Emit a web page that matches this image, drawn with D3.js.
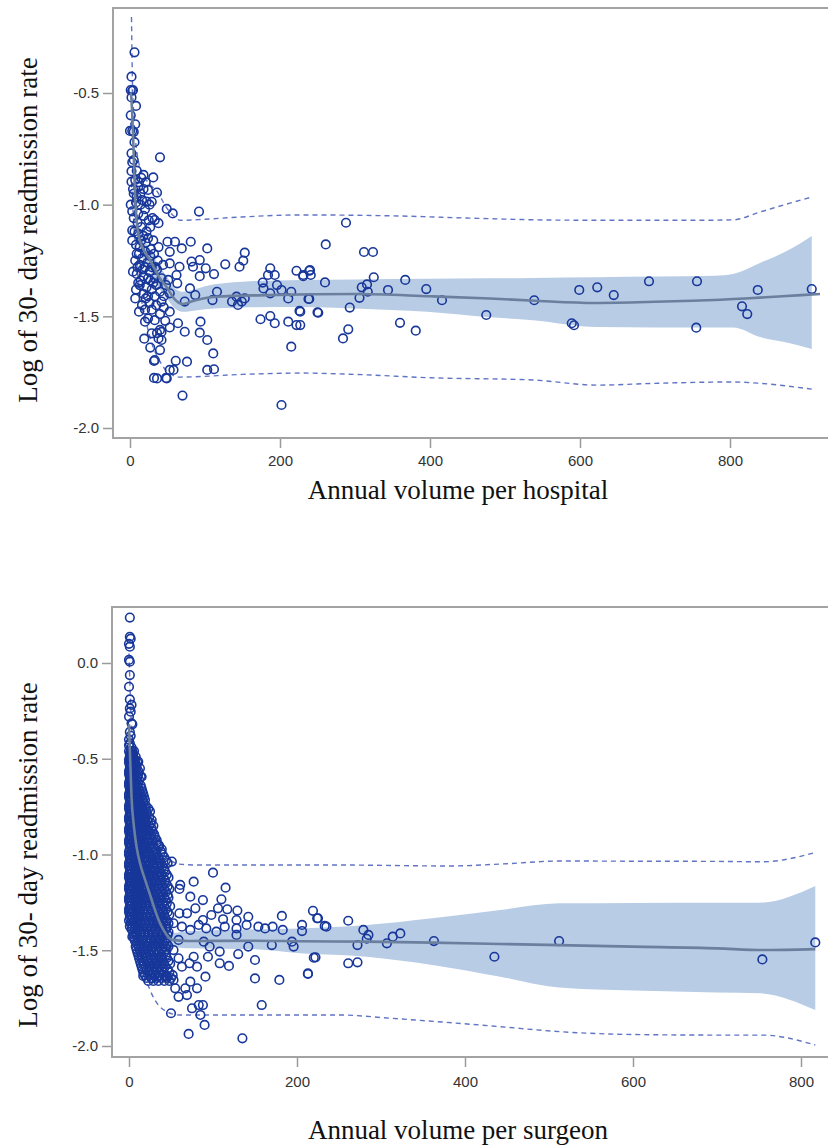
<!DOCTYPE html>
<html>
<head>
<meta charset="utf-8">
<script src="https://cdn.jsdelivr.net/npm/d3@7"></script>
<style>
  body { margin: 0; background: #fff; }
  .tick text { font-family: 'Liberation Sans Narrow', 'Liberation Sans', Arial, sans-serif; font-size: 15px; fill: #333; }
  .tick line { stroke: #9a9a9a; stroke-width: 1.5; }
  .title { font-family: 'Liberation Serif', 'Times New Roman', serif; font-size: 27px; fill: #111; }
</style>
</head>
<body>
<svg id="chart" width="828" height="1146"></svg>
<script>
// ---- hospital panel (top) ----
const hospitalPoints = [
  [288, -1.081], [261, -1.178], [312, -1.212], [324, -1.212], [239, -1.296], [231, -1.32], [241, -1.315],
  [260, -1.348], [325, -1.325], [309, -1.37], [316, -1.357], [317, -1.39], [306, -1.417], [367, -1.337],
  [344, -1.382], [395, -1.378], [416, -1.428], [238, -1.422], [293, -1.461], [227, -1.479], [250, -1.482],
  [227, -1.539], [291, -1.558], [284, -1.599], [360, -1.529], [381, -1.564], [475, -1.494], [539, -1.428],
  [599, -1.382], [589, -1.531], [592, -1.540], [623, -1.37], [645, -1.405], [692, -1.343], [756, -1.343],
  [755, -1.551], [816, -1.455], [823, -1.49], [837, -1.382], [909, -1.378], [202, -1.897], [215, -1.636],
  [92, -1.031], [40, -0.788], [31, -0.878], [36, -0.946], [49, -1.019], [57, -1.039], [50, -1.166],
  [60, -1.166], [81, -1.166], [53, -1.211], [69, -1.196], [103, -1.196], [153, -1.215], [151, -1.251],
  [146, -1.278], [127, -1.267], [93, -1.248], [82, -1.255], [101, -1.285], [112, -1.311], [93, -1.32],
  [84, -1.278], [66, -1.278], [53, -1.263], [62, -1.315], [51, -1.337], [63, -1.352], [80, -1.375],
  [87, -1.405], [73, -1.434], [53, -1.397], [42, -1.434], [53, -1.479], [64, -1.531], [73, -1.569],
  [94, -1.524], [93, -1.573], [103, -1.606], [111, -1.666], [103, -1.74], [112, -1.737], [76, -1.703],
  [61, -1.699], [58, -1.74], [49, -1.778], [36, -1.778], [32, -1.70], [40, -1.651], [70, -1.855],
  [12, -1.479], [20, -1.524], [29, -1.576], [38, -1.599], [40, -1.561], [33, -1.517], [116, -1.39],
  [110, -1.427], [136, -1.434], [142, -1.412], [144, -1.449], [149, -1.434], [153, -1.42], [178, -1.375],
  [184, -1.315], [193, -1.315], [187, -1.285], [196, -1.36], [187, -1.397], [202, -1.382], [215, -1.39],
  [211, -1.42], [222, -1.296], [231, -1.315], [240, -1.293], [239, -1.422], [251, -1.484], [226, -1.475],
  [211, -1.524], [222, -1.539], [193, -1.531], [187, -1.499], [174, -1.513], [177, -1.349],
  [2, -0.427], [6, -0.318], [1, -0.487], [3, -0.49], [4, -0.487], [2, -0.52], [8, -0.558], [7, -0.64],
  [0, -0.67], [3, -0.67], [5, -0.674], [2, -0.77], [3, -0.81], [2, -0.85], [9, -0.848], [18, -0.867],
  [2, -0.897], [7, -0.889], [11, -0.92], [18, -0.93], [24, -0.934], [9, -0.965], [16, -0.979], [22, -0.986],
  [29, -0.987], [3, -1.03], [11, -1.04], [18, -1.05], [25, -1.07], [33, -1.069], [38, -1.083], [3, -1.115],
  [11, -1.13], [18, -1.14], [24, -1.15], [31, -1.16], [38, -1.19], [3, -1.16], [13, -1.19], [20, -1.21],
  [27, -1.23], [7, -1.25], [13, -1.27], [20, -1.28], [29, -1.28], [36, -1.29], [9, -1.31], [18, -1.32],
  [24, -1.33], [33, -1.33], [42, -1.33], [13, -1.36], [22, -1.37], [29, -1.38], [18, -1.40], [24, -1.41],
  [33, -1.41], [40, -1.39], [7, -1.42], [16, -1.45], [29, -1.47], [40, -1.49], [47, -1.52], [42, -1.57],
  [24, -1.51], [53, -1.55], [5, -0.95], [14, -1.0], [20, -1.02], [27, -1.1], [15, -1.1], [8, -1.18],
  [16, -1.24], [23, -1.26], [10, -1.28], [26, -1.3], [31, -1.35], [12, -1.22], [21, -1.17], [28, -1.2],
  [14, -1.34], [35, -1.36], [26, -1.44], [20, -1.47], [35, -1.45], [45, -1.46], [10, -1.08], [6, -1.12],
  [30, -1.06], [12, -0.9], [4, -0.93], [6, -0.72], [1, -0.6], [4, -1.3], [8, -1.38], [19, -1.6],
  [27, -1.64], [45, -1.41], [48, -1.36], [44, -1.27], [37, -1.25], [32, -1.22], [26, -1.0], [21, -0.9],
  [14, -0.95], [33, -1.696], [32, -1.776], [48, -1.776], [53, -1.74], [36, -1.575], [42, -1.606],
  [5, -1.06], [9, -1.22], [15, -1.16], [22, -1.12], [17, -1.29], [11, -1.35], [27, -1.34], [21, -1.42],
  [34, -1.28], [8, -0.99], [15, -0.88], [1, -1.0], [5, -0.8]
]
const hospitalFit = [
  [1, -0.50], [2, -0.53], [4, -0.68], [7, -0.98], [11, -1.13], [18, -1.20], [27, -1.25], [38, -1.32],
  [49, -1.37], [60, -1.425], [71, -1.445], [85, -1.43], [115, -1.412], [182, -1.405], [300, -1.40],
  [400, -1.41], [480, -1.42], [540, -1.43], [620, -1.44], [700, -1.435], [750, -1.43], [820, -1.42],
  [870, -1.41], [920, -1.40]
]
// [x, lower, upper] of the confidence band
const hospitalBand = [
  [1, -0.56, -0.44], [2, -0.59, -0.47], [4, -0.74, -0.62], [7, -1.04, -0.92], [11, -1.18, -1.08],
  [18, -1.25, -1.15], [27, -1.30, -1.20], [38, -1.37, -1.27], [49, -1.42, -1.32], [60, -1.465, -1.375],
  [71, -1.48, -1.39], [85, -1.475, -1.38], [100, -1.468, -1.365], [150, -1.46, -1.345], [227, -1.458, -1.337],
  [300, -1.465, -1.335], [396, -1.48, -1.332], [476, -1.503, -1.33], [537, -1.517, -1.328], [623, -1.548, -1.325],
  [700, -1.55, -1.322], [780, -1.55, -1.318], [804, -1.55, -1.31], [840, -1.593, -1.261], [880, -1.62, -1.20],
  [909, -1.646, -1.14]
]
const hospitalUpper = [
  [2, -0.16], [3, -0.40], [5, -0.60], [9, -0.76], [13, -0.83], [24, -0.90], [36, -0.94], [49, -1.015],
  [58, -1.05], [67, -1.07], [100, -1.065], [150, -1.055], [227, -1.046], [350, -1.05], [450, -1.06],
  [567, -1.069], [650, -1.07], [750, -1.07], [804, -1.068], [840, -1.033], [880, -0.993], [909, -0.966]
]
const hospitalLower = [
  [2, -0.90], [5, -1.08], [10, -1.30], [20, -1.50], [29, -1.62], [38, -1.69], [49, -1.745], [67, -1.772],
  [150, -1.76], [227, -1.754], [300, -1.76], [400, -1.775], [537, -1.785], [623, -1.808], [700, -1.80],
  [804, -1.794], [840, -1.80], [909, -1.826]
]

// ---- surgeon panel (bottom) ----
const surgeonPoints = [
  [1, 0.237], [1, 0.137], [2, 0.127], [0, 0.10], [1, 0.085], [0, 0.016], [1, 0.007], [1, -0.063],
  [0, -0.124], [1, -0.19], [3, -0.219], [1, -0.237], [2, -0.254], [0, -0.28], [3, -0.315], [4, -0.32],
  [1, -0.36], [2, -0.38], [0, -0.40], [1, -0.42], [0, -0.43], [3, -0.44],
  [219, -1.294], [224, -1.333], [233, -1.373], [206, -1.368], [261, -1.346], [279, -1.394], [285, -1.42],
  [283, -1.44], [272, -1.473], [307, -1.464], [314, -1.429], [323, -1.412], [363, -1.452], [435, -1.534],
  [512, -1.452], [754, -1.548], [817, -1.459], [220, -1.539], [222, -1.537], [213, -1.624], [261, -1.568],
  [272, -1.563], [100, -1.095], [77, -1.142], [115, -1.173], [61, -1.159], [60, -1.18], [73, -1.22],
  [88, -1.238], [110, -1.234], [106, -1.281], [117, -1.286], [129, -1.293], [142, -1.325], [128, -1.342],
  [112, -1.338], [98, -1.316], [88, -1.342], [79, -1.281], [69, -1.307], [60, -1.307], [53, -1.359],
  [63, -1.377], [73, -1.394], [83, -1.368], [92, -1.386], [104, -1.403], [114, -1.377], [128, -1.386],
  [140, -1.368], [154, -1.377], [162, -1.386], [171, -1.377], [182, -1.321], [183, -1.394], [194, -1.455],
  [196, -1.481], [206, -1.40], [225, -1.333], [235, -1.377], [170, -1.473], [142, -1.481], [128, -1.42],
  [108, -1.507], [94, -1.534], [119, -1.582], [150, -1.551], [150, -1.647], [179, -1.655], [213, -1.621],
  [158, -1.786], [135, -1.96], [71, -1.937], [90, -1.89], [85, -1.838], [75, -1.803], [83, -1.786],
  [88, -1.786], [50, -1.829], [69, -1.734], [59, -1.743], [55, -1.699], [67, -1.699], [81, -1.699],
  [73, -1.664], [53, -1.655], [45, -1.638], [35, -1.638], [27, -1.647], [17, -1.634], [63, -1.586],
  [72, -1.568], [59, -1.542], [53, -1.499], [43, -1.481], [59, -1.446], [89, -1.455], [96, -1.481],
  [4, -1.429], [33, -1.568], [39, -1.534], [77, -1.534], [81, -1.586], [91, -1.638], [108, -1.568],
  [130, -1.52], [51, -1.037], [39, -0.973], [35, -0.95], [27, -0.82], [13, -0.55], [15, -0.594], [11, -0.515]
]
// dense low-volume cloud, read row by row: [y, volumes in that row]
const surgeonCloudRows = [
  [-0.46, [0, 2, 4, 6]], [-0.475, [1, 3, 5]], [-0.49, [1, 3, 5, 8]], [-0.505, [0, 2, 4, 7]],
  [-0.52, [0, 2, 5, 7, 10]], [-0.535, [1, 3, 6, 9]], [-0.55, [1, 4, 6, 9]], [-0.565, [0, 2, 5, 7, 11]],
  [-0.58, [0, 2, 5, 8, 11]], [-0.595, [1, 4, 7, 10, 14]], [-0.61, [1, 3, 6, 9, 12]], [-0.625, [0, 2, 5, 8, 11]],
  [-0.64, [0, 2, 4, 7, 10, 14]], [-0.655, [1, 3, 5, 8, 11, 15]], [-0.67, [1, 3, 6, 9, 12, 16]],
  [-0.685, [0, 2, 4, 7, 10, 13, 17]], [-0.70, [0, 2, 5, 8, 11, 14, 18]], [-0.715, [1, 3, 6, 9, 12, 16, 19]],
  [-0.73, [1, 4, 7, 10, 13, 17]], [-0.745, [0, 2, 5, 8, 12, 15, 20]], [-0.76, [0, 2, 5, 8, 11, 15, 19, 23]],
  [-0.775, [1, 4, 7, 10, 13, 17, 21, 25]], [-0.79, [1, 3, 6, 9, 13, 17, 21]], [-0.805, [0, 2, 5, 8, 11, 15, 19, 24]],
  [-0.82, [0, 2, 5, 8, 11, 14, 18, 22]], [-0.835, [1, 3, 6, 9, 12, 16, 20, 26]],
  [-0.85, [1, 4, 7, 10, 13, 16, 20, 24, 29]], [-0.865, [0, 2, 5, 9, 12, 15, 18, 22, 27]],
  [-0.88, [0, 2, 5, 8, 11, 15, 19, 23, 28]], [-0.895, [1, 4, 7, 10, 13, 17, 21, 26, 30]],
  [-0.91, [1, 3, 6, 9, 12, 16, 20, 25, 31]], [-0.925, [0, 2, 5, 8, 11, 14, 18, 23, 28, 33]],
  [-0.94, [0, 2, 5, 8, 11, 14, 18, 22, 27, 33]], [-0.955, [1, 3, 6, 9, 12, 16, 20, 24, 29, 36]],
  [-0.97, [1, 4, 7, 10, 13, 17, 21, 26, 30]], [-0.985, [0, 3, 6, 9, 12, 15, 19, 23, 28, 32, 38]],
  [-1.00, [0, 2, 5, 8, 12, 15, 19, 24, 29, 33, 40]], [-1.015, [1, 4, 7, 10, 14, 18, 21, 26, 30, 35, 42]],
  [-1.03, [1, 3, 6, 9, 13, 17, 22, 27, 31, 36, 44]], [-1.045, [0, 2, 5, 8, 11, 15, 20, 25, 29, 33, 38, 46]],
  [-1.06, [0, 2, 5, 8, 11, 15, 19, 24, 28, 34, 40]], [-1.075, [1, 3, 6, 9, 13, 17, 21, 26, 30, 36, 42]],
  [-1.09, [1, 4, 7, 10, 14, 18, 22, 26, 31, 37, 43]], [-1.105, [0, 2, 6, 8, 12, 16, 20, 24, 28, 33, 39, 45]],
  [-1.12, [0, 2, 5, 9, 12, 16, 20, 25, 29, 35, 41, 47]], [-1.135, [1, 4, 7, 11, 14, 18, 22, 27, 31, 37, 43]],
  [-1.15, [1, 3, 7, 10, 14, 18, 23, 27, 32, 38, 44]], [-1.165, [0, 2, 5, 9, 12, 16, 20, 25, 29, 34, 40, 46]],
  [-1.18, [0, 2, 5, 8, 12, 16, 21, 25, 30, 36, 42, 48]], [-1.195, [1, 3, 7, 10, 14, 18, 23, 27, 32, 38, 44]],
  [-1.21, [1, 4, 7, 11, 15, 19, 24, 29, 34, 40, 46]], [-1.225, [0, 2, 5, 9, 13, 17, 21, 26, 31, 36, 42, 47]],
  [-1.24, [0, 2, 6, 9, 13, 17, 22, 27, 32, 38, 44]], [-1.255, [1, 4, 8, 11, 15, 19, 24, 29, 34, 40, 45]],
  [-1.27, [1, 3, 7, 11, 15, 20, 25, 30, 36, 42, 49]], [-1.285, [0, 2, 5, 9, 13, 17, 22, 27, 32, 38, 44]],
  [-1.30, [0, 2, 5, 9, 13, 18, 23, 28, 34, 40, 46]], [-1.315, [1, 3, 7, 11, 15, 20, 25, 30, 36, 42, 48]],
  [-1.33, [1, 4, 8, 12, 16, 21, 26, 31, 37, 43]], [-1.345, [0, 3, 6, 10, 14, 19, 24, 29, 34, 40, 45]],
  [-1.36, [2, 6, 10, 14, 19, 24, 29, 35, 41, 47]], [-1.375, [1, 4, 8, 12, 17, 22, 27, 33, 39, 45]],
  [-1.39, [3, 7, 11, 16, 21, 26, 32, 38, 44]], [-1.405, [5, 9, 13, 18, 23, 29, 35, 41, 47]],
  [-1.42, [6, 9, 13, 18, 23, 28, 34, 40, 46]], [-1.435, [6, 11, 16, 21, 26, 32, 38, 44]],
  [-1.45, [7, 10, 15, 20, 25, 31, 37, 43]], [-1.465, [9, 13, 18, 23, 29, 35, 41, 45]],
  [-1.48, [8, 12, 17, 22, 28, 34, 40, 47]], [-1.495, [9, 13, 17, 22, 27, 33, 39, 45]],
  [-1.51, [10, 14, 19, 24, 30, 36, 42]], [-1.525, [11, 15, 20, 26, 32, 38, 44]],
  [-1.54, [12, 16, 21, 27, 33, 39, 45]], [-1.555, [13, 17, 22, 28, 34, 40, 47]],
  [-1.57, [14, 18, 24, 30, 36, 42, 49]], [-1.585, [15, 20, 25, 31, 37, 43]],
  [-1.60, [16, 21, 27, 33, 39, 46]], [-1.615, [17, 23, 29, 35, 41, 48]],
  [-1.63, [19, 25, 31, 37, 44, 52]], [-1.645, [21, 27, 33, 39, 45, 50]], [-1.66, [23, 29, 35, 42, 48]]
]
const surgeonFit = [
  [0, -0.32], [1, -0.45], [3, -0.70], [6, -0.86], [9, -0.96], [14, -1.06], [19, -1.13], [25, -1.21],
  [31, -1.29], [36, -1.35], [41, -1.394], [51, -1.446], [70, -1.452], [150, -1.45], [204, -1.453],
  [283, -1.455], [361, -1.46], [442, -1.467], [512, -1.473], [600, -1.481], [700, -1.49], [754, -1.499],
  [817, -1.494]
]
const surgeonBand = [
  [0, -0.37, -0.27], [1, -0.50, -0.40], [3, -0.75, -0.65], [6, -0.91, -0.81], [9, -1.00, -0.92],
  [14, -1.10, -1.02], [19, -1.17, -1.09], [25, -1.25, -1.17], [31, -1.33, -1.25], [36, -1.39, -1.31],
  [41, -1.43, -1.355], [51, -1.48, -1.41], [73, -1.49, -1.40], [150, -1.495, -1.39], [204, -1.516, -1.386],
  [283, -1.534, -1.368], [361, -1.577, -1.333], [442, -1.638, -1.29], [512, -1.694, -1.255],
  [600, -1.71, -1.253], [700, -1.72, -1.252], [751, -1.725, -1.252], [817, -1.812, -1.165]
]
const surgeonUpper = [
  [0, 0.05], [3, -0.33], [9, -0.59], [19, -0.76], [31, -0.92], [41, -1.0], [49, -1.03], [60, -1.05],
  [80, -1.055], [251, -1.055], [382, -1.06], [450, -1.048], [512, -1.034], [600, -1.035], [700, -1.036],
  [754, -1.038], [817, -0.99]
]
const surgeonLower = [
  [0, -0.70], [3, -1.07], [11, -1.50], [25, -1.707], [45, -1.821], [60, -1.838], [251, -1.838],
  [311, -1.855], [442, -1.899], [512, -1.925], [600, -1.94], [700, -1.943], [754, -1.943], [817, -1.995]
]

const xTicks = [0, 200, 400, 600, 800]
const hospitalYTicks = [-2.0, -1.5, -1.0, -0.5]
const surgeonYTicks = [-2.0, -1.5, -1.0, -0.5, 0.0]
const yTitle = 'Log of 30- day readmission rate'

const svg = d3.select('#chart')

function drawPanel (p) {
  const g = svg.append('g')
  const x = d3.scaleLinear().domain(p.xDomain).range(p.xRange)
  const y = d3.scaleLinear().domain(p.yDomain).range(p.yRange)

  const line = d3.line().x(d => x(d[0])).y(d => y(d[1])).curve(d3.curveMonotoneX)
  const area = d3.area()
    .x(d => x(d[0]))
    .y0(d => y(d[1]))
    .y1(d => y(d[2]))
    .curve(d3.curveMonotoneX)

  // confidence band
  g.append('path')
    .attr('d', area(p.band))
    .attr('fill', '#b8cce6')

  // prediction limits
  ;[p.upper, p.lower].forEach(lim => {
    g.append('path')
      .attr('d', line(lim))
      .attr('fill', 'none')
      .attr('stroke', '#6074c4')
      .attr('stroke-width', 1.4)
      .attr('stroke-dasharray', '5,4')
  })

  g.selectAll('.pt')
    .data(p.points)
    .enter()
    .append('circle')
    .attr('class', 'pt')
    .attr('cx', d => x(d[0]))
    .attr('cy', d => y(d[1]))
    .attr('r', 4.3)
    .attr('fill', 'none')
    .attr('stroke', '#18379a')
    .attr('stroke-width', 1.6)

  g.append('path')
    .attr('d', line(p.fit))
    .attr('fill', 'none')
    .attr('stroke', '#6b7f9e')
    .attr('stroke-width', 2.6)

  // frame (right side runs off the picture)
  g.append('rect')
    .attr('x', p.frame[0])
    .attr('y', p.frame[1])
    .attr('width', 840 - p.frame[0])
    .attr('height', p.frame[2] - p.frame[1])
    .attr('fill', 'none')
    .attr('stroke', '#a3a3a3')
    .attr('stroke-width', 2)

  const yAxis = g.append('g')
    .attr('transform', 'translate(' + (p.frame[0] - 1) + ',0)')
    .call(d3.axisLeft(y).tickValues(p.yTicks).tickSize(9).tickPadding(4).tickFormat(d => d.toFixed(1)))
  yAxis.select('.domain').remove()

  const xAxis = g.append('g')
    .attr('transform', 'translate(0,' + (p.frame[2] + 1) + ')')
    .call(d3.axisBottom(x).tickValues(xTicks).tickSize(9).tickPadding(p.xPad).tickFormat(d3.format('d')))
  xAxis.select('.domain').remove()

  g.append('text')
    .attr('class', 'title')
    .attr('text-anchor', 'middle')
    .attr('transform', 'translate(37,' + p.yTitleY + ') rotate(-90)')
    .text(yTitle)

  g.append('text')
    .attr('class', 'title')
    .attr('text-anchor', 'middle')
    .attr('x', 458)
    .attr('y', p.xTitleY)
    .text(p.xTitle)
}

drawPanel({
  points: hospitalPoints,
  fit: hospitalFit,
  band: hospitalBand,
  upper: hospitalUpper,
  lower: hospitalLower,
  xDomain: [0, 920],
  xRange: [130, 820],
  yDomain: [-2, -0.5],
  yRange: [428, 93],
  yTicks: hospitalYTicks,
  frame: [113, 8, 438],
  xPad: 7,
  yTitleY: 230,
  xTitle: 'Annual volume per hospital',
  xTitleY: 499
})

const surgeonAll = surgeonPoints.concat(
  surgeonCloudRows.flatMap(r => r[1].map(v => [v, r[0]]))
)

drawPanel({
  points: surgeonAll,
  fit: surgeonFit,
  band: surgeonBand,
  upper: surgeonUpper,
  lower: surgeonLower,
  xDomain: [0, 800],
  xRange: [129, 801],
  yDomain: [-2, 0],
  yRange: [1046, 663],
  yTicks: surgeonYTicks,
  frame: [112, 607, 1057],
  xPad: 9,
  yTitleY: 855,
  xTitle: 'Annual volume per surgeon',
  xTitleY: 1139
})
</script>
</body>
</html>
